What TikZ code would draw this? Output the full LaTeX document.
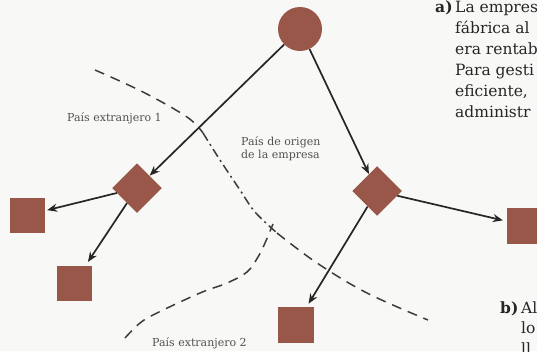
\documentclass[tikz,border=0pt]{standalone}
\usepackage{fontspec}
\setmainfont{DejaVu Serif}
\usetikzlibrary{arrows.meta}
\definecolor{brn}{HTML}{99574A}
\definecolor{ink}{HTML}{262626}
\definecolor{bg}{HTML}{F8F8F6}
\begin{document}
\begin{tikzpicture}[x=1pt,y=-1pt,
  shp/.style={fill=brn, draw=none, inner sep=0pt},
  sq/.style={shp, rectangle, minimum size=35pt},
  dia/.style={shp, rectangle, rotate=45, minimum size=35pt},
  arr/.style={-{Stealth[length=10pt,width=8pt]}, line width=1.7pt, draw=ink},
  bound/.style={line width=1.5pt, draw=ink!90, dash pattern=on 10pt off 7pt},
  lab/.style={font=\fontsize{11}{13}\selectfont, text=ink!80, inner sep=0pt, anchor=west},
  body/.style={font=\fontsize{15.5}{21}\selectfont, text=ink, inner sep=0pt, anchor=base west}]
\clip (0,0) rectangle (537,351);
\fill[bg] (0,0) rectangle (537,351);

% boundaries
\draw[bound] plot[smooth, tension=0.6] coordinates {(95,70) (143,92) (187,117) (203,133)};
\draw[bound, dash pattern=on 9pt off 4pt on 2pt off 4pt] plot[smooth, tension=0.6] coordinates {(203,133) (220,160) (240,190) (255,212) (277,233)};
\draw[bound] plot[smooth, tension=0.6] coordinates {(277,233) (317,263) (367,293) (428,320)};
\draw[bound] plot[smooth, tension=0.6] coordinates {(125,338) (140,323) (157,313) (200,293) (227,283) (247,272) (258,257) (265,243) (273,224)};

% shapes
\node[shp, circle, minimum size=44pt] (circ) at (300,29) {};
\node[dia] (dL) at (137,188) {};
\node[dia] (dR) at (377,191) {};
\node[sq] (sLL) at (27.5,215) {};
\node[sq] (sLB) at (74,283) {};
\node[sq, minimum size=36pt] (sB) at (296,324.5) {};
\node[sq, minimum size=36pt] (sR) at (525,225.5) {};

% arrows
\draw[arr] (circ) -- (dL);
\draw[arr] (circ) -- (dR);
\draw[arr, shorten >=2pt] (dL) -- (sLL);
\draw[arr, shorten >=4pt] (dL) -- (sLB);
\draw[arr, shorten >=4pt] (dR) -- (sR);
\draw[arr, shorten >=3pt] (dR) -- (sB);

% labels
\node[lab] (l1) at (67,118) {País extranjero 1};
\node[lab] (l2) at (241,142) {País de origen};
\node[lab] (l3) at (241,155) {de la empresa};
\node[lab] (l4) at (152,343) {País extranjero 2};

% text a)
\node[body] (atag) at (435,12.5) {\textbf{a)}};
\node[body] (a1) at (455,12.5) {La empres};
\node[body] (a2) at (455,33.5) {fábrica al};
\node[body] (a3) at (455,54.5) {era rentab};
\node[body] (a4) at (455,75.5) {Para gesti};
\node[body] (a5) at (455,96.5) {eficiente,};
\node[body] (a6) at (455,117.5) {administr};

% text b)
\node[body] (btag) at (500,313) {\textbf{b)}};
\node[body] (b1) at (521,313) {Al};
\node[body] (b2) at (521,333) {lo};
\node[body] (b3) at (521,354) {ll};
\end{tikzpicture}
\end{document}
